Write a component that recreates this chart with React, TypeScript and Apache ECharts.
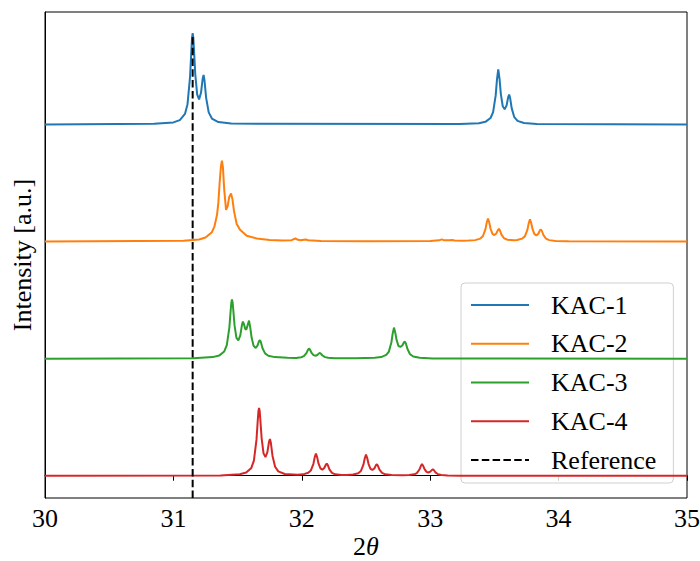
import React, { useEffect, useRef } from "react";
import * as echarts from "echarts";

// ---- data (2θ, relative intensity before vertical offset) ----
const seriesNames = ["KAC-1", "KAC-2", "KAC-3", "KAC-4"];
const seriesColors = ["#1f77b4", "#ff7f0e", "#2ca02c", "#d62728"];
const seriesOffsets = [3, 2, 1, 0];
const referenceX = 31.15;
const referenceTop = 3.778;
const xTicks = [30, 31, 32, 33, 34, 35];

const kac1: number[][] = [
  [30, 0], [30.85, 0.005], [31.0, 0.017], [31.05, 0.037], [31.09, 0.09], [31.11, 0.173],
  [31.13, 0.411], [31.14, 0.633], [31.145, 0.737], [31.15, 0.778], [31.155, 0.742], [31.16, 0.643],
  [31.17, 0.432], [31.185, 0.257], [31.2, 0.214], [31.215, 0.27], [31.228, 0.391], [31.235, 0.422],
  [31.242, 0.377], [31.255, 0.227], [31.275, 0.103], [31.3, 0.05], [31.35, 0.02], [31.45, 0.007],
  [33.23, 0.003], [33.38, 0.01], [33.43, 0.022], [33.47, 0.055], [33.49, 0.105], [33.51, 0.248],
  [33.52, 0.383], [33.53, 0.47], [33.54, 0.389], [33.55, 0.261], [33.565, 0.155], [33.58, 0.129],
  [33.595, 0.163], [33.608, 0.236], [33.615, 0.255], [33.622, 0.228], [33.635, 0.137], [33.655, 0.062],
  [33.68, 0.03], [33.73, 0.012], [33.83, 0.004], [35, 0],
];

const kac2: number[][] = [
  [30, 0], [31.08, 0.006], [31.2, 0.018], [31.25, 0.034], [31.3, 0.08], [31.32, 0.13], [31.34, 0.23],
  [31.35, 0.33], [31.36, 0.5], [31.37, 0.64], [31.378, 0.69], [31.386, 0.63], [31.396, 0.44],
  [31.41, 0.27], [31.422, 0.3], [31.435, 0.38], [31.449, 0.41], [31.46, 0.36], [31.472, 0.26],
  [31.493, 0.15], [31.519, 0.1], [31.571, 0.05], [31.649, 0.026], [31.75, 0.013], [31.85, 0.009],
  [31.92, 0.012], [31.95, 0.026], [31.97, 0.015], [31.99, 0.011], [32.03, 0.017], [32.05, 0.011],
  [32.15, 0.005], [32.5, 0.003], [33.0, 0.004], [33.07, 0.01], [33.09, 0.018], [33.11, 0.01],
  [33.15, 0.01], [33.17, 0.013], [33.19, 0.008], [33.25, 0.006], [33.3, 0.008], [33.35, 0.012],
  [33.39, 0.025], [33.41, 0.045], [33.43, 0.104], [33.44, 0.16], [33.45, 0.197], [33.46, 0.163],
  [33.47, 0.109], [33.485, 0.066], [33.5, 0.055], [33.515, 0.069], [33.528, 0.1], [33.535, 0.108],
  [33.542, 0.097], [33.555, 0.059], [33.575, 0.028], [33.6, 0.016], [33.65, 0.011], [33.677, 0.013],
  [33.717, 0.025], [33.737, 0.044], [33.757, 0.1], [33.767, 0.155], [33.777, 0.19], [33.787, 0.157],
  [33.797, 0.105], [33.812, 0.063], [33.827, 0.052], [33.842, 0.066], [33.855, 0.096], [33.862, 0.103],
  [33.869, 0.092], [33.882, 0.055], [33.902, 0.025], [33.927, 0.012], [33.977, 0.005], [34.077, 0.002],
  [35, 0],
];

const kac3: number[][] = [
  [30, 0], [31.156, 0.003], [31.306, 0.013], [31.356, 0.026], [31.396, 0.061], [31.416, 0.115],
  [31.436, 0.267], [31.446, 0.411], [31.451, 0.475], [31.456, 0.505], [31.461, 0.48], [31.466, 0.42],
  [31.476, 0.286], [31.491, 0.178], [31.506, 0.156], [31.521, 0.198], [31.534, 0.288], [31.541, 0.316],
  [31.548, 0.299], [31.561, 0.248], [31.569, 0.252], [31.579, 0.29], [31.589, 0.325], [31.599, 0.262],
  [31.609, 0.18], [31.624, 0.111], [31.639, 0.091], [31.654, 0.109], [31.667, 0.149], [31.674, 0.158],
  [31.681, 0.142], [31.694, 0.089], [31.714, 0.045], [31.739, 0.025], [31.789, 0.013], [31.889, 0.008],
  [31.956, 0.006], [31.996, 0.012], [32.016, 0.021], [32.036, 0.047], [32.046, 0.071], [32.056, 0.087],
  [32.066, 0.072], [32.076, 0.049], [32.091, 0.03], [32.106, 0.025], [32.121, 0.031], [32.134, 0.045],
  [32.141, 0.048], [32.148, 0.043], [32.161, 0.027], [32.181, 0.013], [32.206, 0.007], [32.256, 0.004],
  [32.356, 0.004], [32.418, 0.004], [32.568, 0.007], [32.618, 0.013], [32.658, 0.032], [32.678, 0.06],
  [32.698, 0.14], [32.708, 0.216], [32.718, 0.265], [32.728, 0.222], [32.738, 0.16], [32.753, 0.108],
  [32.768, 0.1], [32.783, 0.112], [32.796, 0.14], [32.803, 0.145], [32.81, 0.132], [32.823, 0.082],
  [32.843, 0.038], [32.868, 0.018], [32.918, 0.007], [33.018, 0.002], [35, 0],
];

const kac4: number[][] = [
  [30, 0], [31.367, 0.003], [31.517, 0.013], [31.567, 0.027], [31.607, 0.067], [31.627, 0.129],
  [31.647, 0.306], [31.657, 0.472], [31.662, 0.549], [31.667, 0.58], [31.672, 0.553], [31.677, 0.48],
  [31.687, 0.322], [31.702, 0.191], [31.717, 0.16], [31.732, 0.201], [31.745, 0.292], [31.752, 0.314],
  [31.759, 0.281], [31.772, 0.169], [31.792, 0.077], [31.817, 0.037], [31.867, 0.015], [31.967, 0.009],
  [32.01, 0.012], [32.05, 0.025], [32.07, 0.044], [32.09, 0.1], [32.1, 0.155], [32.11, 0.19],
  [32.12, 0.157], [32.13, 0.105], [32.145, 0.063], [32.16, 0.052], [32.175, 0.066], [32.188, 0.096],
  [32.195, 0.103], [32.202, 0.092], [32.215, 0.055], [32.235, 0.025], [32.26, 0.012], [32.31, 0.007],
  [32.35, 0.007], [32.4, 0.011], [32.44, 0.021], [32.46, 0.04], [32.48, 0.095], [32.49, 0.147],
  [32.5, 0.18], [32.51, 0.149], [32.52, 0.1], [32.535, 0.059], [32.55, 0.05], [32.565, 0.062],
  [32.578, 0.091], [32.585, 0.098], [32.592, 0.087], [32.605, 0.053], [32.625, 0.024], [32.65, 0.012],
  [32.7, 0.006], [32.786, 0.004], [32.836, 0.006], [32.876, 0.012], [32.896, 0.022], [32.916, 0.053],
  [32.926, 0.081], [32.936, 0.1], [32.946, 0.083], [32.956, 0.056], [32.971, 0.033], [32.986, 0.028],
  [33.001, 0.035], [33.014, 0.05], [33.021, 0.054], [33.028, 0.049], [33.041, 0.029], [33.061, 0.013],
  [33.086, 0.006], [33.136, 0.003], [33.236, 0.001], [35, 0],
];

const allSeriesData = [kac1, kac2, kac3, kac4];

const Y_MIN = -0.19;
const Y_MAX = 3.96;
const FONT = "'Liberation Serif', 'DejaVu Serif', serif";

export default function App() {
  const ref = useRef<HTMLDivElement>(null);

  useEffect(() => {
    if (!ref.current) return;
    const chart = echarts.init(ref.current, undefined, { renderer: "svg" });

    const lineSeries = allSeriesData.map((d, i) => ({
      name: seriesNames[i],
      type: "line",
      data: d.map((p) => [p[0], p[1] + seriesOffsets[i]]),
      showSymbol: false,
      symbol: "none",
      lineStyle: { color: seriesColors[i], width: 2 },
      itemStyle: { color: seriesColors[i] },
      z: 2 + i,
    }));

    const option = {
      animation: false,
      backgroundColor: "#ffffff",
      grid: {
        left: 45,
        right: 13,
        top: 12,
        bottom: 63,
        outerBoundsMode: "none",
        containLabel: false,
        show: true,
        borderColor: "#000",
        borderWidth: 1,
        backgroundColor: "transparent",
      },
      graphic: [
        {
          type: "text",
          x: 366,
          y: 546,
          style: {
            text: "2",
            fontFamily: FONT,
            fontSize: 26,
            fill: "#000",
            align: "right",
            verticalAlign: "middle",
          },
        },
        {
          type: "text",
          x: 366,
          y: 546,
          style: {
            text: "θ",
            fontFamily: FONT,
            fontSize: 26,
            fontStyle: "italic",
            fill: "#000",
            align: "left",
            verticalAlign: "middle",
          },
        },
      ],
      legend: {
        orient: "vertical",
        left: 461,
        top: 283,
        data: [...seriesNames, "Reference"],
        itemWidth: 58,
        itemHeight: 14,
        itemGap: 12.75,
        padding: [9, 17, 10, 9],
        backgroundColor: "rgba(255,255,255,0.8)",
        borderColor: "#d0d0d0",
        borderWidth: 1,
        borderRadius: 4,
        itemStyle: { opacity: 0 },
        textStyle: {
          fontFamily: FONT,
          fontSize: 26,
          color: "#000",
          lineHeight: 26,
          padding: [0, 0, 0, 17],
        },
      },
      xAxis: {
        type: "value",
        min: 30,
        max: 35,
        interval: 1,
        axisLine: { show: true, lineStyle: { color: "#000", width: 1 } },
        axisTick: { show: true, inside: false, length: 5, lineStyle: { color: "#000", width: 1 } },
        axisLabel: {
          fontFamily: FONT,
          fontSize: 26,
          color: "#000",
          margin: 7,
          formatter: (v: number) => (xTicks.includes(v) ? String(v) : ""),
        },
        splitLine: { show: false },
      },
      yAxis: {
        type: "value",
        min: Y_MIN,
        max: Y_MAX,
        name: "Intensity [a.u.]",
        nameLocation: "middle",
        nameRotate: 90,
        nameGap: 10,
        nameTextStyle: { fontFamily: FONT, fontSize: 26, color: "#000" },
        axisLine: { show: true, lineStyle: { color: "#000", width: 1 } },
        axisTick: { show: false },
        axisLabel: { show: false },
        splitLine: { show: false },
      },
      series: [
        ...lineSeries,
        {
          name: "Reference",
          type: "line",
          data: [
            [referenceX, Y_MIN],
            [referenceX, referenceTop],
          ],
          showSymbol: false,
          symbol: "none",
          lineStyle: { color: "#000", width: 2, type: [7.5, 3.3] },
          itemStyle: { color: "#000" },
          z: 10,
        },
      ],
    };

    chart.setOption(option as any);
    return () => chart.dispose();
  }, []);

  return (
    <div
      ref={ref}
      style={{ position: "fixed", left: 0, top: 0, width: 700, height: 561, background: "#fff" }}
    />
  );
}
